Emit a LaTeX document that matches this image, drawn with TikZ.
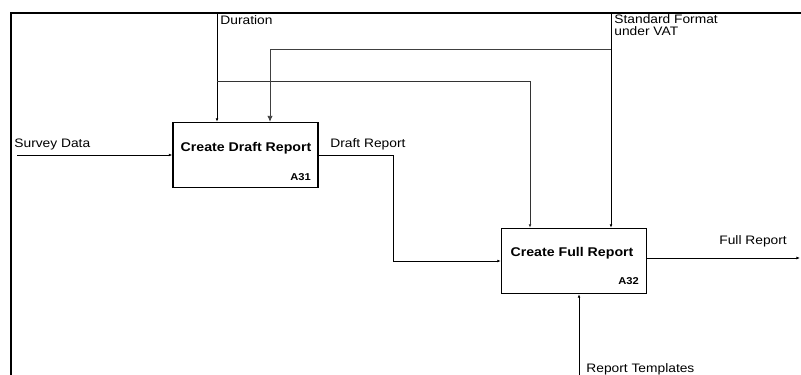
\documentclass[tikz,border=0pt]{standalone}
\usepackage{fontspec}
\setmainfont[FakeStretch=1.12]{Liberation Sans}
\usepackage{tikz}
\usetikzlibrary{arrows.meta}
\usetikzlibrary{calc,positioning}

\tikzset{
  activity/.style={draw, line width=1.2pt, minimum width=4.35cm, minimum height=1.95cm, inner sep=0pt},
  flow/.style={line width=0.6pt, -{Latex[length=3pt,width=2.4pt]}},
  lbl/.style={font=\fontsize{10.5}{11.5}\selectfont, inner sep=1pt}
}

\begin{document}
\begin{tikzpicture}[x=0.03cm, y=-0.03cm]

    \useasboundingbox (0,0) rectangle (801,375);

    % Frame
    \draw[line width=1.2pt] (801,13) -- (11,13) -- (11,375);

    % Activities
    \node[activity] (a31) at (245.5,155) {};
    \node[font=\fontsize{10.8}{12}\selectfont\bfseries] (a31t) at (246,148) {Create Draft Report};
    \node[font=\fontsize{8.5}{10}\selectfont\bfseries, anchor=south east] (a31n) at (315,185) {A31};

    \node[activity] (a32) at (574,261) {};
    \node[font=\fontsize{10.8}{12}\selectfont\bfseries] (a32t) at (572,253) {Create Full Report};
    \node[font=\fontsize{8.5}{10}\selectfont\bfseries, anchor=south east] (a32n) at (643,289) {A32};

    % Free ends
    \coordinate (sd) at (17,155);
    \coordinate (dur) at (217,13);
    \coordinate (durb) at (217,81);
    \coordinate (sf) at (611,13);
    \coordinate (sfb) at (611,49);
    \coordinate (fr) at (800,258);
    \coordinate (rt) at (579,375);

    % Input
    \draw[flow] (sd) -- (a31.west);
    \node[lbl, anchor=south west] (sdl) at (13,151) {Survey Data};

    % Duration
    \draw[flow] (dur) -- (dur |- a31.north);
    \draw[flow, black!80] (durb) -- (530,81) -- (530,81 |- a32.north);
    \node[lbl, anchor=north west] (durl) at (219,14) {Duration};

    % Standard Format
    \draw[flow] (sf) -- (sf |- a32.north);
    \draw[line width=0.6pt, black!75, -{Latex[length=5pt,width=4.5pt]}] (sfb) -- (270,49) -- (270,49 |- a31.north);
    \node[lbl, anchor=north west, align=left] (sfl) at (613,13) {Standard Format\\[-1.5pt]under VAT};

    % Draft Report
    \draw[flow] (a31.east) -- ++(75,0) |- (a32.west);
    \node[lbl, anchor=south west] (drl) at (329,151) {Draft Report};

    % Output
    \draw[flow] (a32.east |- fr) -- (fr);
    \node[lbl, anchor=south west] (frl) at (718,248) {Full Report};

    % Mechanism
    \draw[flow] (rt) -- (rt |- a32.south);
    \node[lbl, anchor=west] (rtl) at (585,369) {Report Templates};

\end{tikzpicture}
\end{document}
